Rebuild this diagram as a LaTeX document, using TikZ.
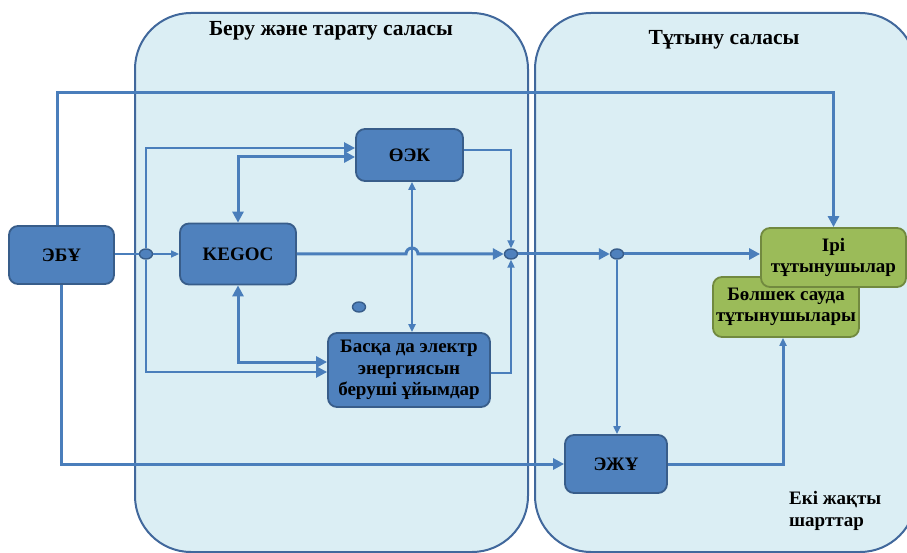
\documentclass[tikz,border=0pt]{standalone}
\usepackage{fontspec}
\setmainfont{Liberation Serif}
\usetikzlibrary{arrows.meta,shapes.geometric}
\definecolor{regfill}{HTML}{DBEEF4}
\definecolor{regdraw}{HTML}{41689C}
\definecolor{boxfill}{HTML}{4F81BD}
\definecolor{boxdraw}{HTML}{385D8A}
\definecolor{connc}{HTML}{4A7EBB}
\definecolor{grfill}{HTML}{9BBB59}
\definecolor{grdraw}{HTML}{71893F}
\tikzset{
  region/.style={draw=regdraw, fill=regfill, line width=2pt, rounded corners=56pt},
  bluebox/.style={draw=boxdraw, fill=boxfill, line width=1.8pt, rounded corners=9pt,
    inner sep=0pt, align=center, font=\fontsize{19}{21.5}\selectfont\bfseries},
  greenbox/.style={draw=grdraw, fill=grfill, line width=1.8pt, rounded corners=9pt,
    inner sep=0pt, align=center, font=\fontsize{19}{21}\selectfont\bfseries},
  junction/.style={ellipse, draw=boxdraw, fill=boxfill, line width=1.4pt,
    minimum width=13pt, minimum height=10pt, inner sep=0pt},
  conn/.style={draw=connc, line width=3pt},
  midconn/.style={draw=connc, line width=2.4pt},
  thinconn/.style={draw=connc, line width=1.4pt},
  bigtip/.style={-{Triangle[length=11pt,width=11pt]}},
  smalltip/.style={-{Triangle[length=8pt,width=7pt]}},
  bothbig/.style={{Triangle[length=11pt,width=11pt]}-{Triangle[length=11pt,width=11pt]}},
  bothsmall/.style={{Triangle[length=8pt,width=7pt]}-{Triangle[length=8pt,width=7pt]}},
  titletext/.style={font=\fontsize{21.5}{24}\selectfont\bfseries, inner sep=0pt},
}
\begin{document}
\begin{tikzpicture}[x=1pt,y=-1pt]
\clip (0,0) rectangle (907,553);
\fill[white] (0,0) rectangle (907,553);
% regions
\draw[region] (135,13) rectangle (528,552);
\draw[region] (535,13) rectangle (916,552);
\node[titletext] (t1) at (331,31) {Беру және тарату саласы};
\node[titletext] (t2) at (724,40) {Тұтыну саласы};
% boxes
\node[bluebox, minimum width=105pt, minimum height=58pt] (ebu) at (61.5,255) {ЭБҰ};
\node[bluebox, minimum width=116pt, minimum height=61pt] (kegoc) at (238,254) {KEGOC};
\node[bluebox, minimum width=107pt, minimum height=52pt] (oek) at (409.5,155) {ӨЭК};
\node[bluebox, minimum width=162pt, minimum height=74pt] (basqa) at (409,370) {Басқа да электр\\энергиясын\\беруші ұйымдар};
\node[bluebox, minimum width=102pt, minimum height=58pt] (ezhu) at (616,464) {ЭЖҰ};
\node[greenbox, minimum width=146pt, minimum height=60pt] (bolshek) at (786,307) {Бөлшек сауда\\тұтынушылары};
\node[greenbox, minimum width=145pt, minimum height=59pt] (iri) at (833.5,257.5) {Ірі\\тұтынушылар};
% junctions
\node[junction] (j0) at (146,254) {};
\node[junction] (j1) at (511,254) {};
\node[junction] (j2) at (617,254) {};
\node[junction] (dot) at (359,307) {};
\coordinate (topy) at (500,93);
\coordinate (hopx) at (412,254);
% connectors
\draw[conn, bigtip] ([xshift=-4pt]ebu.north) |- (topy) -| (iri.north);
\draw[conn, bigtip] (ebu.south) |- (ezhu.west);
\draw[thinconn] (ebu.east |- j0) -- (j0.west);
\draw[thinconn, smalltip] (j0.east) -- (kegoc.west |- j0);
\draw[midconn, bigtip] (j0.north) |- ([yshift=7pt]oek.west);
\draw[midconn, bigtip] (j0.south) |- ([yshift=-2pt]basqa.west);
\draw[conn, bothbig] (kegoc.north) |- ([yshift=-2pt]oek.west);
\draw[conn, bothbig] (kegoc.south) |- ([yshift=8pt]basqa.west);
\draw[conn, bigtip] (kegoc.east |- j1) -- ([xshift=-6pt]hopx) arc[start angle=180, end angle=0, radius=6pt] -- (j1.west);
\draw[midconn, bothsmall] (oek.south -| hopx) -- (basqa.north -| hopx);
\draw[midconn, smalltip] ([yshift=5pt]oek.east) -| (j1.north);
\draw[midconn, smalltip] ([yshift=-3pt]basqa.east) -| (j1.south);
\draw[conn, bigtip] (j1.east) -- (j2.west);
\draw[conn, bigtip] (j2.east) -- (iri.west |- j2);
\draw[midconn, smalltip] (j2.south) -- (ezhu.north -| j2);
\draw[conn, smalltip] (ezhu.east) -| ([xshift=-3pt]bolshek.south);
% label
\node[anchor=north west, align=left, inner sep=0pt, font=\fontsize{19}{22}\selectfont\bfseries] (lbl) at (789,491) {Екі жақты\\шарттар};
\end{tikzpicture}
\end{document}
